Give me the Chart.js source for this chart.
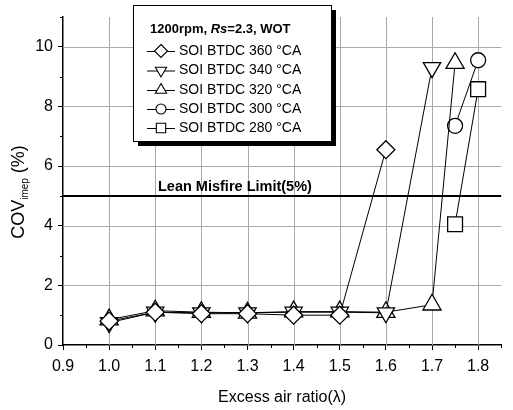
<!DOCTYPE html>
<html>
<head>
<meta charset="utf-8">
<title>COV imep vs excess air ratio</title>
<style>
  * { margin: 0; padding: 0; box-sizing: border-box; }
  body { background: #fff; }
  #box { width: 513px; height: 410px; position: relative; }
</style>
</head>
<body>
<div id="box"><canvas id="covChart"></canvas></div>
<script src="https://cdn.jsdelivr.net/npm/chart.js"></script>
<script>
// excess air ratio / COV_imep (%) for each SOI timing
const lambda360 = [1.0, 1.1, 1.2, 1.3, 1.4, 1.5, 1.6];
const cov360    = [0.8, 1.1, 1.05, 1.05, 1.0, 1.0, 6.55];

const lambda340 = [1.0, 1.1, 1.2, 1.3, 1.4, 1.5, 1.6, 1.7];
const cov340    = [0.75, 1.1, 1.08, 1.08, 1.1, 1.1, 1.08, 9.3];

const lambda320 = [1.0, 1.1, 1.2, 1.3, 1.4, 1.5, 1.6, 1.7, 1.75];
const cov320    = [0.85, 1.15, 1.1, 1.08, 1.12, 1.12, 1.1, 1.35, 9.45];

const lambda300 = [1.75, 1.8];
const cov300    = [7.35, 9.55];

const lambda280 = [1.75, 1.8];
const cov280    = [4.05, 8.58];

const seriesLabels = ['SOI BTDC 360 °CA', 'SOI BTDC 340 °CA', 'SOI BTDC 320 °CA', 'SOI BTDC 300 °CA', 'SOI BTDC 280 °CA'];
const misfireLimit = 5;
const xTicksMajor = [1.0, 1.1, 1.2, 1.3, 1.4, 1.5, 1.6, 1.7, 1.8];
const yTicksMajor = [2, 4, 6, 8, 10];
const xTicksMinor = [0.95, 1.05, 1.15, 1.25, 1.35, 1.45, 1.55, 1.65, 1.75, 1.85];
const yTicksMinor = [1, 3, 5, 7, 9, 11];

const FONT = '"Liberation Sans", Arial, sans-serif';

function pts(xs, ys) {
  return xs.map((x, i) => ({ x: x, y: ys[i] }));
}

function makeSet(label, xs, ys, style, radius, rotation) {
  return {
    label: label,
    data: pts(xs, ys),
    borderColor: '#000',
    backgroundColor: '#fff',
    borderWidth: 1,
    pointStyle: style,
    pointRadius: radius,
    pointRotation: rotation || 0,
    pointBackgroundColor: '#fff',
    pointBorderColor: '#000',
    pointBorderWidth: 1.3,
    fill: false,
    tension: 0
  };
}

// small marker painter for the legend box
function marker(ctx, style, x, y, r, rot) {
  ctx.save();
  ctx.translate(x, y);
  ctx.rotate((rot || 0) * Math.PI / 180);
  ctx.beginPath();
  if (style === 'circle') {
    ctx.arc(0, 0, r, 0, Math.PI * 2);
  } else if (style === 'rect') {
    ctx.rect(-r * 0.72, -r * 0.72, r * 1.44, r * 1.44);
  } else if (style === 'rectRot') {
    ctx.moveTo(0, -r); ctx.lineTo(r, 0); ctx.lineTo(0, r); ctx.lineTo(-r, 0); ctx.closePath();
  } else {
    ctx.moveTo(0, -r);
    ctx.lineTo(r * 0.866, r * 0.5);
    ctx.lineTo(-r * 0.866, r * 0.5);
    ctx.closePath();
  }
  ctx.fillStyle = '#fff';
  ctx.fill();
  ctx.lineWidth = 1.1;
  ctx.strokeStyle = '#000';
  ctx.stroke();
  ctx.restore();
}

// light grid at the major ticks
function drawGrid(chart) {
  const ctx = chart.ctx;
  const xs = chart.scales.x, ys = chart.scales.y;
  const area = chart.chartArea;
  ctx.save();
  ctx.strokeStyle = '#aaa';
  ctx.lineWidth = 1;
  xTicksMajor.forEach(v => {
    const px = Math.round(xs.getPixelForValue(v)) + 0.5;
    ctx.beginPath();
    ctx.moveTo(px, area.top);
    ctx.lineTo(px, area.bottom);
    ctx.stroke();
  });
  yTicksMajor.forEach(v => {
    const py = Math.round(ys.getPixelForValue(v)) + 0.5;
    ctx.beginPath();
    ctx.moveTo(area.left, py);
    ctx.lineTo(area.right, py);
    ctx.stroke();
  });
  ctx.restore();
}

const extras = {
  id: 'extras',
  beforeDatasetsDraw(chart) {
    const ctx = chart.ctx;
    const ys = chart.scales.y;
    const area = chart.chartArea;
    drawGrid(chart);
    ctx.save();
    const yl = ys.getPixelForValue(misfireLimit);
    ctx.strokeStyle = '#000';
    ctx.lineWidth = 2;
    ctx.beginPath();
    ctx.moveTo(area.left, yl);
    ctx.lineTo(area.right, yl);
    ctx.stroke();
    ctx.fillStyle = '#000';
    ctx.font = 'bold 14.5px ' + FONT;
    ctx.textBaseline = 'alphabetic';
    ctx.fillText('Lean Misfire Limit(5%)', 158, yl - 5);
    ctx.restore();
  },
  afterDraw(chart) {
    const ctx = chart.ctx;
    const xs = chart.scales.x, ys = chart.scales.y;
    const area = chart.chartArea;
    ctx.save();
    ctx.strokeStyle = '#000';
    ctx.lineWidth = 1;
    // minor ticks
    xTicksMinor.forEach(v => {
      const px = Math.round(xs.getPixelForValue(v)) + 0.5;
      ctx.beginPath();
      ctx.moveTo(px, area.bottom);
      ctx.lineTo(px, area.bottom + 3);
      ctx.stroke();
    });
    yTicksMinor.forEach(v => {
      const py = Math.round(ys.getPixelForValue(v)) + 0.5;
      ctx.beginPath();
      ctx.moveTo(area.left, py);
      ctx.lineTo(area.left - 3, py);
      ctx.stroke();
    });

    // axis titles
    ctx.fillStyle = '#000';
    ctx.font = '16px ' + FONT;
    ctx.textAlign = 'center';
    ctx.textBaseline = 'alphabetic';
    ctx.fillText('Excess air ratio(λ)', (area.left + area.right) / 2, 402);

    ctx.save();
    ctx.translate(24, 192);
    ctx.rotate(-Math.PI / 2);
    ctx.textAlign = 'left';
    ctx.font = '18px ' + FONT;
    const w1 = ctx.measureText('COV').width;
    ctx.font = '10px ' + FONT;
    const w2 = ctx.measureText('imep').width;
    ctx.font = '18px ' + FONT;
    const w3 = ctx.measureText(' (%)').width;
    let sx = -(w1 + w2 + w3) / 2;
    ctx.fillText('COV', sx, 0);
    sx += w1;
    ctx.font = '10px ' + FONT;
    ctx.fillText('imep', sx, 4);
    sx += w2;
    ctx.font = '18px ' + FONT;
    ctx.fillText(' (%)', sx, 0);
    ctx.restore();

    // legend box with drop shadow
    const bx = 133, by = 5, bw = 198, bh = 136;
    ctx.fillStyle = '#000';
    ctx.fillRect(bx + 5, by + 5, bw, bh);
    ctx.fillStyle = '#fff';
    ctx.fillRect(bx, by, bw, bh);
    ctx.strokeStyle = '#000';
    ctx.lineWidth = 1;
    ctx.strokeRect(bx + 0.5, by + 0.5, bw, bh);

    ctx.fillStyle = '#000';
    ctx.textAlign = 'left';
    ctx.textBaseline = 'middle';
    let tx = 150;
    ctx.font = 'bold 13px ' + FONT;
    ctx.fillText('1200rpm, ', tx, 29);
    tx += ctx.measureText('1200rpm, ').width;
    ctx.font = 'italic bold 13px ' + FONT;
    ctx.fillText('Rs', tx, 29);
    tx += ctx.measureText('Rs').width;
    ctx.font = 'bold 13px ' + FONT;
    ctx.fillText('=2.3, WOT', tx, 29);

    const rows = [51, 70.5, 90, 109, 128];
    chart.data.datasets.forEach((ds, i) => {
      const ry = rows[i];
      ctx.strokeStyle = '#000';
      ctx.lineWidth = 1;
      ctx.beginPath();
      ctx.moveTo(147, ry + 0.5);
      ctx.lineTo(175, ry + 0.5);
      ctx.stroke();
      marker(ctx, ds.pointStyle, 161, ry, ds.pointStyle === 'circle' ? 5 : 6.5, ds.pointRotation);
      ctx.fillStyle = '#000';
      ctx.font = '14px ' + FONT;
      ctx.fillText(ds.label, 179, ry);
    });
    ctx.restore();
  }
};

new Chart(document.getElementById('covChart'), {
  type: 'line',
  data: {
    datasets: [
      makeSet(seriesLabels[0], lambda360, cov360, 'rectRot', 9),
      makeSet(seriesLabels[1], lambda340, cov340, 'triangle', 10, 180),
      makeSet(seriesLabels[2], lambda320, cov320, 'triangle', 10.5),
      makeSet(seriesLabels[3], lambda300, cov300, 'circle', 7.5),
      makeSet(seriesLabels[4], lambda280, cov280, 'rect', 10.5)
    ]
  },
  options: {
    responsive: true,
    maintainAspectRatio: false,
    animation: false,
    devicePixelRatio: 1,
    layout: { padding: { top: 17, right: 0, left: 0, bottom: 0 } },
    plugins: {
      legend: { display: false },
      tooltip: { enabled: false }
    },
    scales: {
      x: {
        type: 'linear',
        min: 0.9,
        max: 1.85,
        afterFit: s => { s.height = 65; },
        border: { color: '#000', width: 1.5 },
        grid: { drawOnChartArea: false, tickColor: '#000', tickLength: 5, tickWidth: 1 },
        ticks: {
          stepSize: 0.1,
          includeBounds: false,
          color: '#000',
          padding: 7,
          maxRotation: 0,
          font: { family: FONT, size: 16 },
          callback: v => v.toFixed(1)
        }
      },
      y: {
        min: 0,
        max: 11,
        afterFit: s => { s.width = 63; },
        border: { color: '#000', width: 1.5 },
        grid: { drawOnChartArea: false, tickColor: '#000', tickLength: 5, tickWidth: 1 },
        ticks: {
          stepSize: 2,
          includeBounds: false,
          color: '#000',
          padding: 5,
          font: { family: FONT, size: 16 }
        }
      }
    }
  },
  plugins: [extras]
});
</script>
</body>
</html>
